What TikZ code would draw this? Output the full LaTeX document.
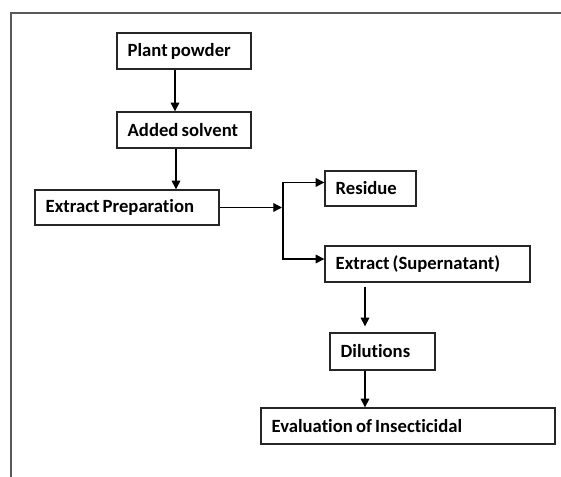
\documentclass[tikz,border=0pt]{standalone}
\usepackage{fontspec}
\setmainfont{Carlito}[Ligatures=NoCommon]
\usetikzlibrary{arrows.meta,calc}

\tikzset{
  box/.style={draw=black!85, line width=1pt, text width=#1, align=left,
    inner xsep=8pt, inner ysep=0pt, minimum height=27pt,
    font=\bfseries\fontsize{14}{16}\selectfont,
    execute at begin node={\spaceskip=2.4pt plus 1pt\relax}},
  arr/.style={line width=0.9pt, -{Triangle[length=6.5pt,width=6.5pt]}},
  frame/.style={draw=black!65, line width=1.1pt}
}

\begin{document}
\begin{tikzpicture}[x=0.75pt,y=0.75pt,yscale=-1,xscale=1]
\useasboundingbox (0,0) rectangle (561,477);

%Straight Lines: page frame
\draw [frame] (11,477) -- (11,13) -- (561,13) ;

%Shape: Rectangle
\node [box=84.5pt] (plant) at (184,51) {Plant powder};
%Shape: Rectangle
\node [box=84.5pt] (solvent) at (184,130) {Added solvent};
%Shape: Rectangle
\node [box=122pt, minimum height=26.25pt] (prep) at (127,207.5) {Extract Preparation};
%Shape: Rectangle
\node [box=52.25pt, minimum height=26.25pt] (residue) at (370.5,188.5) {Residue};
%Shape: Rectangle
\node [box=137.75pt] (extract) at (427.5,264) {Extract (Supernatant)};
%Shape: Rectangle
\node [box=62.75pt, minimum height=27.75pt] (dil) at (382.5,351.5) {Dilutions};
%Shape: Rectangle
\node [box=204.5pt] (eval) at (408,426) {Evaluation of Insecticidal};

\coordinate (split) at (283,207.5);
\coordinate (rin) at ($(residue.west)+(0,-6)$);
\coordinate (ein) at ($(extract.west)+(0,-5)$);

%Straight Lines
\draw [arr] ($(plant.south)+(-9,0)$) -- ($(solvent.north)+(-9,0)$) ;
%Straight Lines
\draw [arr] ($(solvent.south)+(-8,0)$) -- ($(prep.north)+(49,0)$) ;
%Straight Lines
\draw [arr] (prep.east) -- ($(split)+(-1,0)$) ;
%Straight Lines
\draw [arr] (rin -| split) -- (ein -| split) -- (ein) ;
\draw [arr] (rin -| split) -- (rin) ;
%Straight Lines
\draw [arr, shorten <=3pt, shorten >=4.5pt] ($(extract.south)+(-62.5,0)$) -- ($(dil.north)+(-17.5,0)$) ;
%Straight Lines
\draw [arr] ($(dil.south)+(-17.5,0)$) -- ($(eval.north)+(-43,0)$) ;

\end{tikzpicture}
\end{document}
